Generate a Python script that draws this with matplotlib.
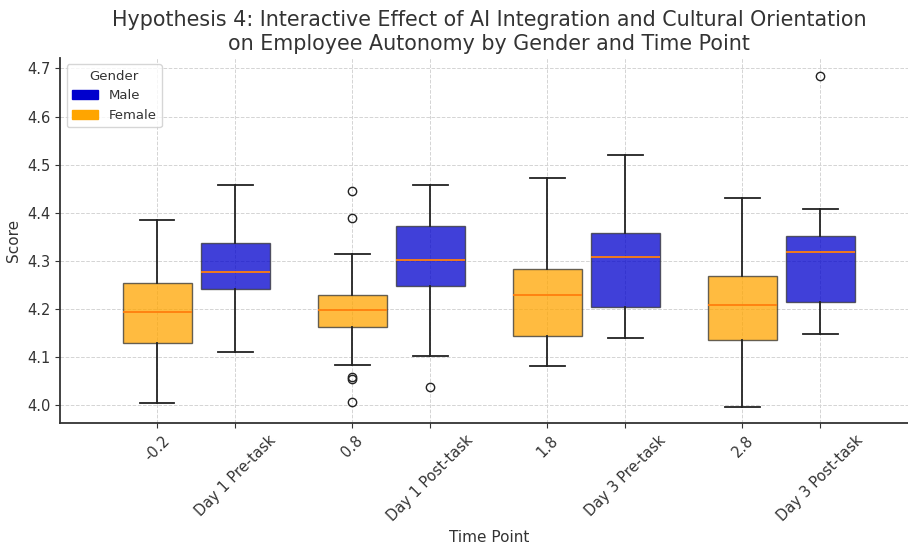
import matplotlib.pyplot as plt
from matplotlib.patches import Patch
import numpy as np

# time points and box statistics
time_points = ["Day 1 Pre-task", "Day 1 Post-task", "Day 3 Pre-task", "Day 3 Post-task"]

female_whislo = [4.003, 4.084, 4.081, 3.996]
female_q1 = [4.129, 4.163, 4.143, 4.134]
female_med = [4.193, 4.197, 4.228, 4.207]
female_q3 = [4.253, 4.228, 4.282, 4.268]
female_whishi = [4.385, 4.313, 4.472, 4.431]
female_fliers = [[], [4.446, 4.388, 4.057, 4.053, 4.007], [], []]

male_whislo = [4.109, 4.101, 4.139, 4.148]
male_q1 = [4.241, 4.248, 4.203, 4.215]
male_med = [4.277, 4.302, 4.308, 4.319]
male_q3 = [4.336, 4.373, 4.357, 4.351]
male_whishi = [4.458, 4.457, 4.519, 4.408]
male_fliers = [[], [4.038], [], [4.685]]


def make_stats(lo, q1, med, q3, hi, fl):
    return [dict(whislo=a, q1=b, med=c, q3=d, whishi=e, fliers=f)
            for a, b, c, d, e, f in zip(lo, q1, med, q3, hi, fl)]


fig = plt.figure(figsize=(9.08, 5.46), dpi=100)
ax = fig.add_axes([0.066, 0.225, 0.945, 0.669])

x = np.arange(len(time_points))
pos_f = x - 0.2
pos_m = x + 0.2

common = dict(widths=0.35, patch_artist=True,
              medianprops=dict(color="#ff7f0e", linewidth=1.3),
              whiskerprops=dict(color="#222222", linewidth=1.3),
              capprops=dict(color="#222222", linewidth=1.3),
              flierprops=dict(marker="o", markerfacecolor="none",
                              markeredgecolor="#222222", markersize=6))

bf = ax.bxp(make_stats(female_whislo, female_q1, female_med, female_q3,
                       female_whishi, female_fliers), positions=pos_f, **common)
bm = ax.bxp(make_stats(male_whislo, male_q1, male_med, male_q3,
                       male_whishi, male_fliers), positions=pos_m, **common)

for b in bf["boxes"]:
    b.set_facecolor("orange")
    b.set_alpha(0.75)
    b.set_edgecolor("#333333")
for b in bm["boxes"]:
    b.set_facecolor("mediumblue")
    b.set_alpha(0.75)
    b.set_edgecolor("#333333")

ticks = []
labels = []
for p_f, p_m, name in zip(pos_f, pos_m, time_points):
    ticks += [p_f, p_m]
    labels += [f"{p_f:.1f}", name]
ax.set_xticks(ticks)
ax.set_xticklabels(labels, rotation=45, fontsize=10.5, color="#333333")
ax.tick_params(axis="y", labelsize=10.5, labelcolor="#333333")
ax.tick_params(colors="#333333")

ax.set_xlim(-0.7, 3.7)
ax.set_ylim(3.962, 4.722)
ax.set_yticks(np.arange(4.0, 4.71, 0.1))

ax.grid(True, linestyle="--", color="#d4d4d4", linewidth=0.7)
ax.set_axisbelow(True)
for s in ["top", "right"]:
    ax.spines[s].set_visible(False)
for s in ["left", "bottom"]:
    ax.spines[s].set_color("#333333")
    ax.spines[s].set_linewidth(1.3)

ax.set_title("Hypothesis 4: Interactive Effect of AI Integration and Cultural Orientation\n"
             "on Employee Autonomy by Gender and Time Point",
             fontsize=14.9, color="#333333")
ax.set_xlabel("Time Point", fontsize=11, color="#333333")
ax.set_ylabel("Score", fontsize=11, color="#333333")

handles = [Patch(color="mediumblue", label="Male"), Patch(color="orange", label="Female")]
leg = ax.legend(handles=handles, title="Gender", loc="upper left", fontsize=9.5,
                title_fontsize=9.5)
for t in leg.get_texts():
    t.set_color("#333333")
leg.get_title().set_color("#333333")

fig.savefig("out.png", dpi=100)
